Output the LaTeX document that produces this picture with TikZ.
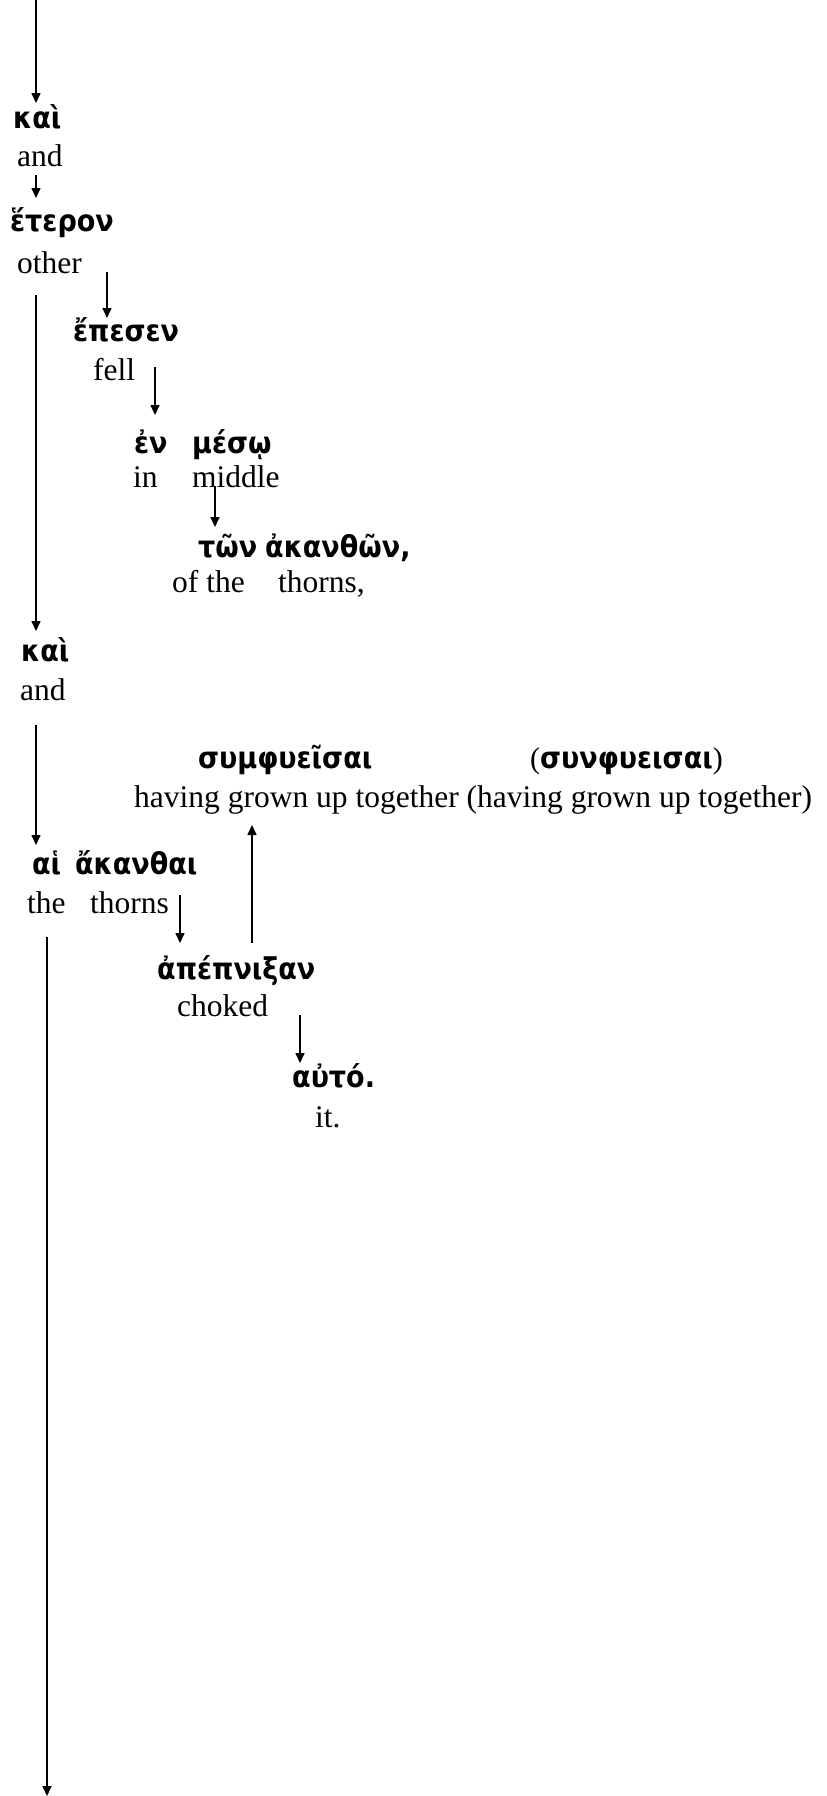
\documentclass[tikz,border=0pt]{standalone}
\usepackage{fontspec}
\setmainfont{Liberation Serif}
\newfontfamily\gkfont{DejaVu Sans}[BoldFont={DejaVu Sans Bold},FakeStretch=0.9]
\usetikzlibrary{arrows.meta}
\tikzset{
  gk/.style={anchor=base west, inner sep=0pt, font=\gkfont\bfseries\fontsize{30}{35}\selectfont},
  en/.style={anchor=base west, inner sep=0pt, font=\fontsize{31.5}{38}\selectfont},
  link/.style={line width=1.6pt, -{Triangle[length=10pt,width=9pt]}},
}
\begin{document}
\begin{tikzpicture}[x=1pt,y=-1pt]
\useasboundingbox (0,0) rectangle (827,1796);

% Greek words
\node[gk] (kai1)   at (13,128)  {καὶ};
\node[gk] (heter)  at (10,231)  {ἕτερον};
\node[gk] (epesen) at (73,341)  {ἔπεσεν};
\node[gk] (en)     at (134,453) {ἐν};
\node[gk] (meso)   at (192,453) {μέσῳ};
\node[gk] (ton)    at (198,557) {τῶν};
\node[gk] (akanth) at (265,557) {ἀκανθῶν,};
\node[gk] (kai2)   at (21,661)  {καὶ};
\node[gk] (symph)  at (198,768) {συμφυεῖσαι};
\node[gk] (synph)  at (530,768) {{\rmfamily\mdseries(}συνφυεισαι{\rmfamily\mdseries)}};
\node[gk] (hai)    at (32,874)  {αἱ};
\node[gk] (akanth2) at (75,874) {ἄκανθαι};
\node[gk] (apep)   at (157,979) {ἀπέπνιξαν};
\node[gk] (auto)   at (292,1087) {αὐτό.};

% English glosses
\node[en] (g-and1)  at (17,166)  {and};
\node[en] (g-other) at (17,273)  {other};
\node[en] (g-fell)  at (93,380)  {fell};
\node[en] (g-in)    at (133,487) {in};
\node[en] (g-mid)   at (192,487) {middle};
\node[en] (g-ofthe) at (172,592) {of the};
\node[en] (g-thorns) at (278,592) {thorns,};
\node[en] (g-and2)  at (20,700)  {and};
\node[en] (g-grown) at (134,807) {having grown up together (having grown up together)};
\node[en] (g-the)   at (27,913)  {the};
\node[en] (g-thorns2) at (90,913) {thorns};
\node[en] (g-choked) at (177,1016) {choked};
\node[en] (g-it)    at (315,1127) {it.};

% connector end points
\coordinate (top)     at (36,0);
\coordinate (kai1-in) at (36,103);
\coordinate (and1-out) at (36,175);
\coordinate (heter-in) at (36,198);
\coordinate (other-out) at (107,272);
\coordinate (epesen-in) at (107,318);
\coordinate (fell-out) at (155,367);
\coordinate (en-in)    at (155,415);
\coordinate (mid-out)  at (215,487);
\coordinate (ton-in)   at (215,527);
\coordinate (heter-out) at (36,295);
\coordinate (kai2-in)  at (36,631);
\coordinate (and2-out) at (36,725);
\coordinate (hai-in)   at (36,845);
\coordinate (thorns-out) at (180,895);
\coordinate (apep-in)  at (180,943);
\coordinate (apep-up)  at (252,943);
\coordinate (symph-in) at (252,825);
\coordinate (choked-out) at (300,1015);
\coordinate (auto-in)  at (300,1063);
\coordinate (hai-out)  at (47,937);
\coordinate (bottom)   at (47,1796);

\draw[link] (top) -- (kai1-in);
\draw[link] (and1-out) -- (heter-in);
\draw[link] (other-out) -- (epesen-in);
\draw[link] (fell-out) -- (en-in);
\draw[link] (mid-out) -- (ton-in);
\draw[link] (heter-out) -- (kai2-in);
\draw[link] (and2-out) -- (hai-in);
\draw[link] (thorns-out) -- (apep-in);
\draw[link] (apep-up) -- (symph-in);
\draw[link] (choked-out) -- (auto-in);
\draw[link] (hai-out) -- (bottom);
\end{tikzpicture}
\end{document}
